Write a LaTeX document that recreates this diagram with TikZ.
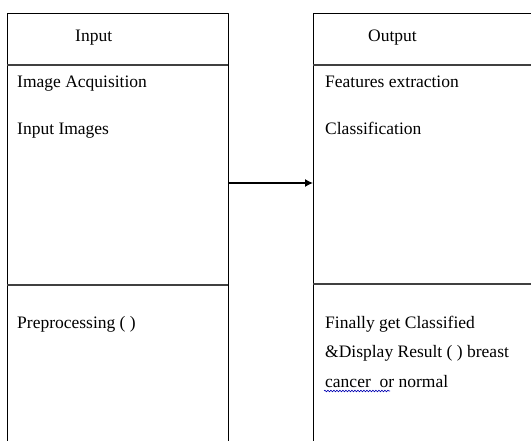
\documentclass[tikz,border=0pt]{standalone}
\usepackage{fontspec}
\setmainfont{Liberation Serif}
\usetikzlibrary{arrows.meta,decorations.pathmorphing}

\begin{document}
\begin{tikzpicture}[x=1pt,y=-1pt,line join=round,
    box/.style={draw,line width=1.4pt,minimum width=221pt,minimum height=440pt,
      anchor=north west,inner sep=0pt},
    sep/.style={line width=1.8pt,draw=black!75},
    txt/.style={anchor=base west,inner sep=0pt,font=\fontsize{17.5}{29}\selectfont}]
    \useasboundingbox (0,0) rectangle (531,441);
    \clip (0,0) rectangle (531,441);

    \begin{scope}[shift={(7,13)}]
      \node[box] (inbox) at (0,0) {};
      \draw[sep] (0,52) -- (221,52);
      \draw[sep] (0,272) -- (221,272);
      \node[txt] (inhead) at (68,29) {Input};
      \node[txt] (acq) at (10,75) {Image Acquisition};
      \node[txt] (inimg) at (10,122) {Input Images};
      \node[txt] (prep) at (10,315) {Preprocessing ( )};
    \end{scope}

    \begin{scope}[shift={(313,13)}]
      \node[box] (outbox) at (0,0) {};
      \draw[sep] (0,52) -- (221,52);
      \draw[sep] (0,271) -- (221,271);
      \node[txt] (outhead) at (55,29) {Output};
      \node[txt] (feat) at (12,75) {Features extraction};
      \node[txt] (cls) at (12,122) {Classification};
      \node[txt] (fin1) at (12,316) {Finally get Classified};
      \node[txt] (fin2) at (12,345) {\&Display Result ( ) breast};
      \node[txt] (fin3) at (12,374) {cancer\ \ or normal};
      \draw[blue!70!black,line width=0.6pt,decorate,
        decoration={snake,amplitude=0.8pt,segment length=3pt}] (11,378) -- (77,378);
    \end{scope}

    \coordinate (arr) at (0,183);
    \draw[-{Latex[length=8pt,width=8pt]},line width=1.3pt] (inbox.east |- arr) -- (outbox.west |- arr);
\end{tikzpicture}
\end{document}
